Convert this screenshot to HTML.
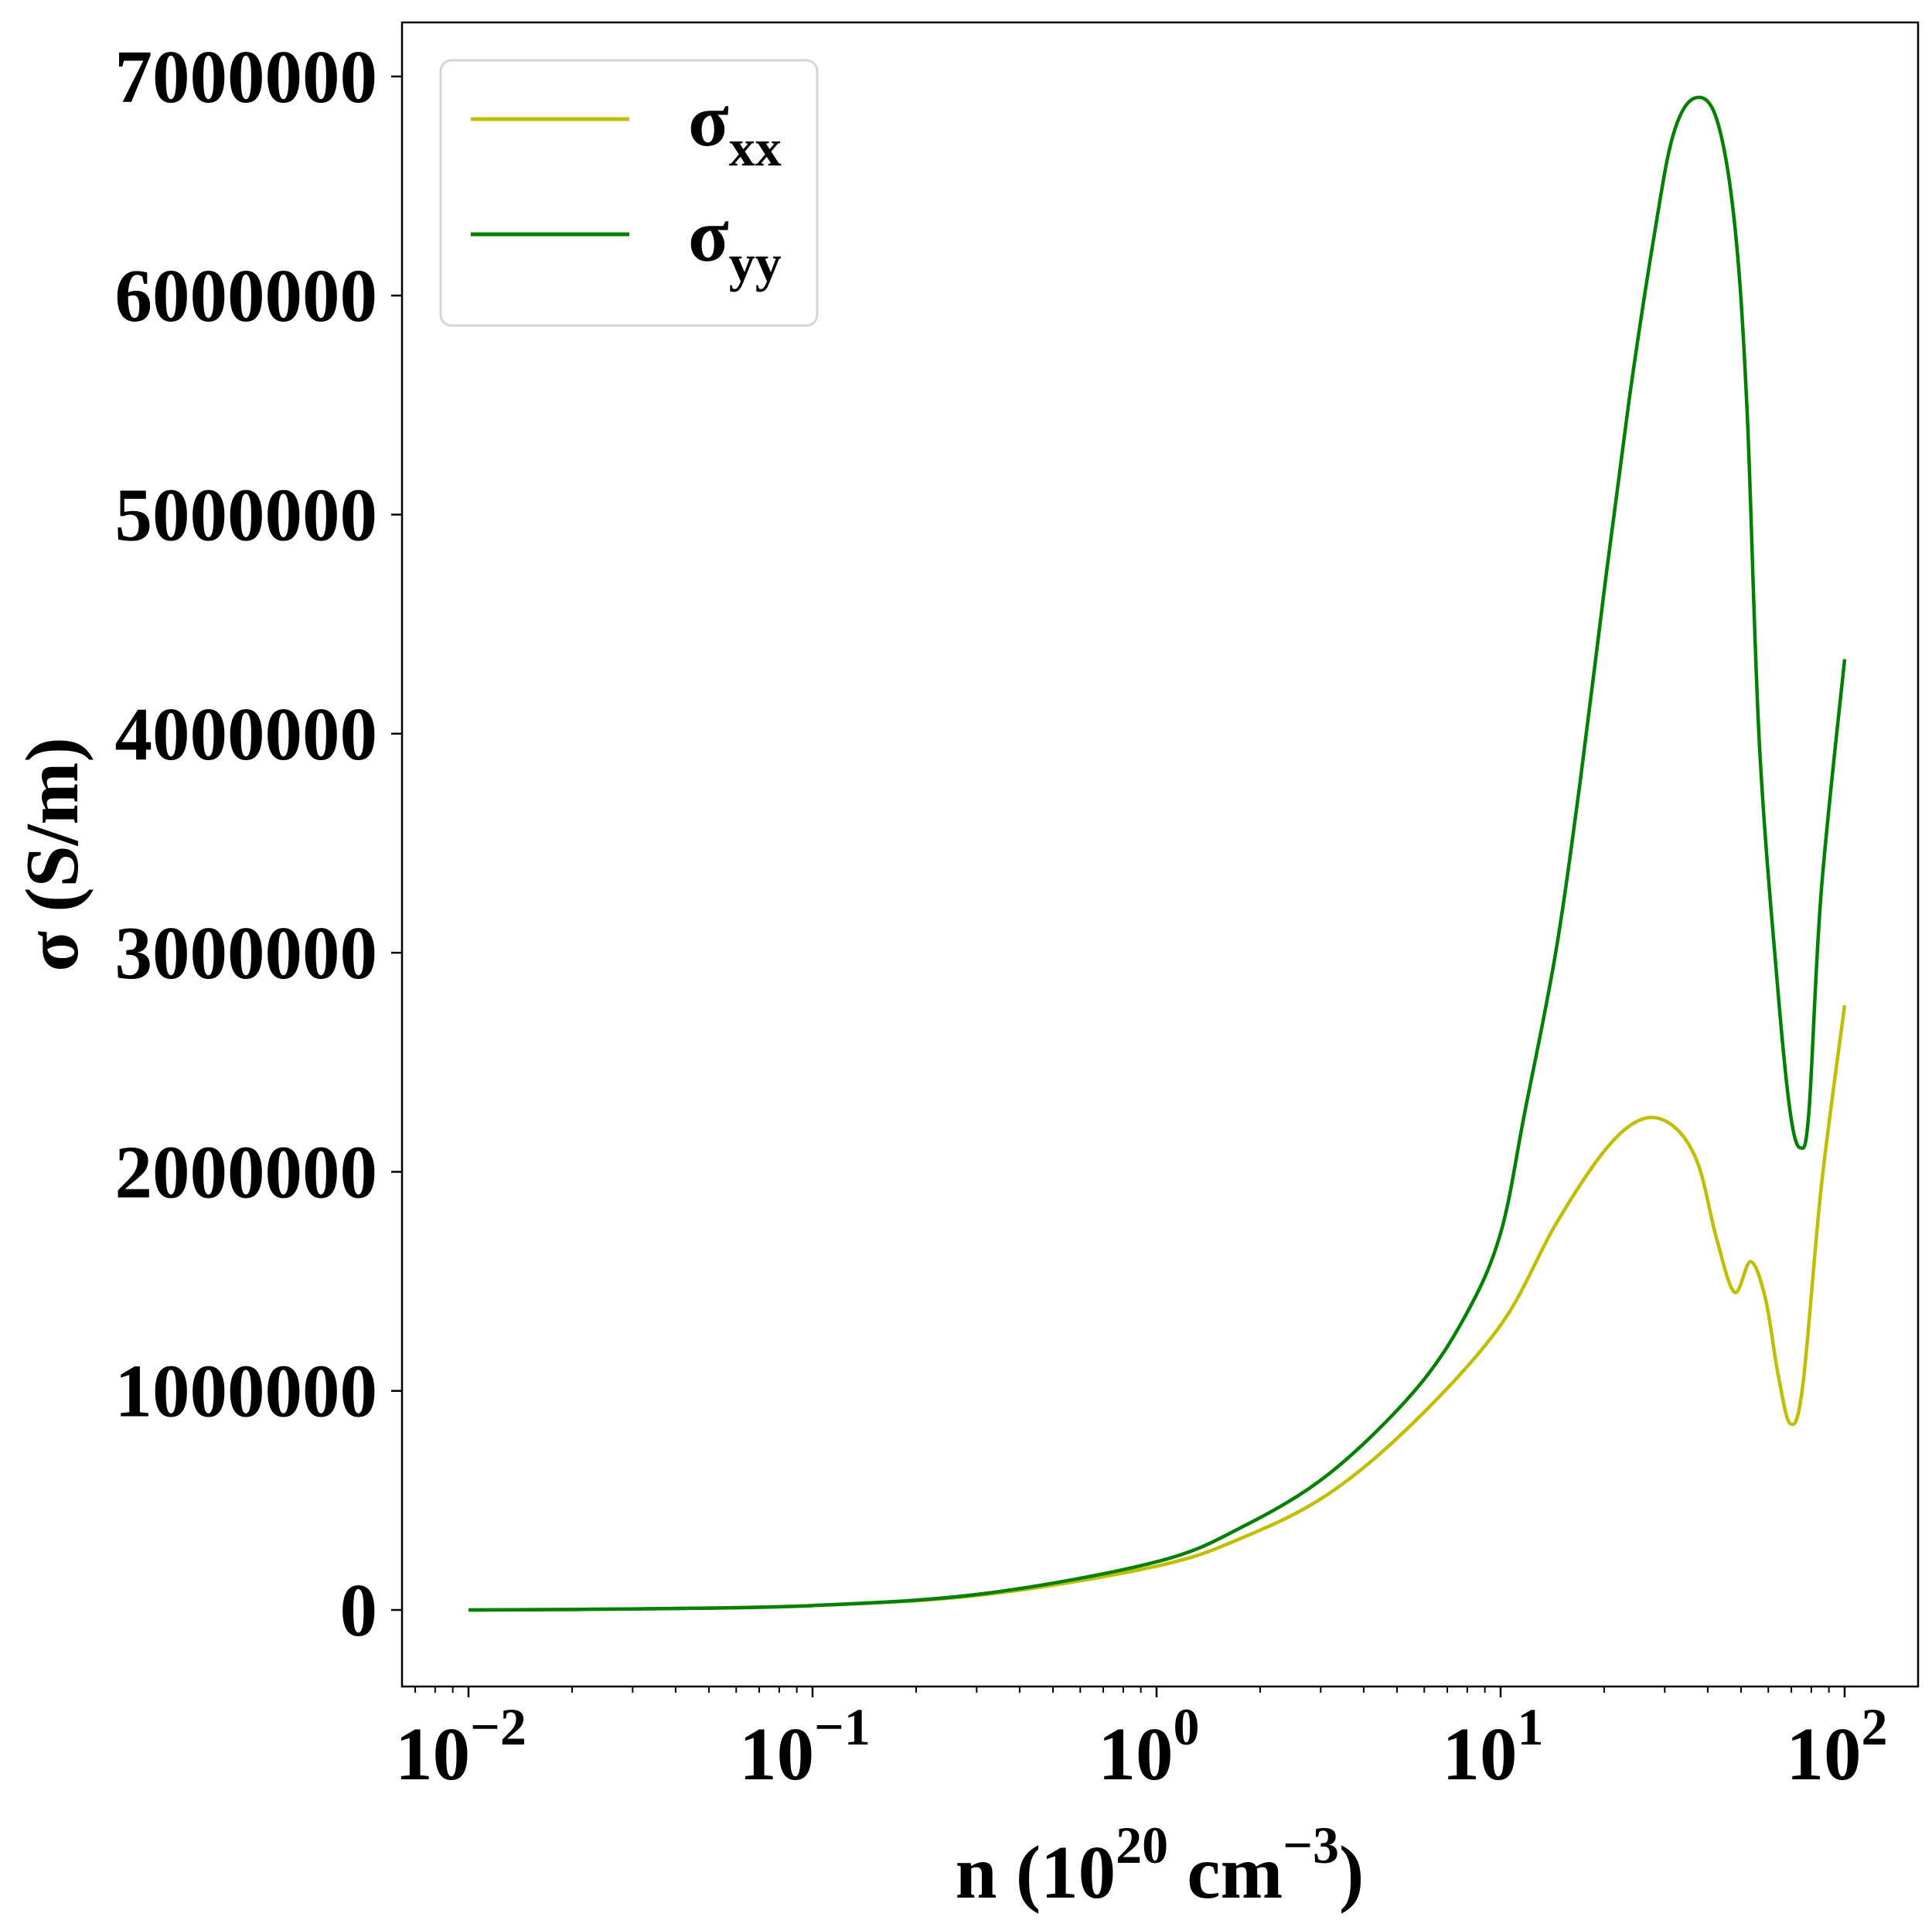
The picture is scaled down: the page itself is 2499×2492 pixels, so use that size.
<!DOCTYPE html>
<html><head><meta charset="utf-8"><style>
html,body{margin:0;padding:0;background:#fff;}
svg{display:block;font-family:"Liberation Serif","DejaVu Serif",serif;font-weight:bold;}
</style></head><body>
<svg id="chart" width="2499" height="2492" viewBox="0 0 2499 2492" xmlns="http://www.w3.org/2000/svg">
<rect x="0" y="0" width="2499" height="2492" fill="#fff"/>
<g id="plot"></g>
<rect x="520" y="29" width="1961" height="2152" fill="none" stroke="#000" stroke-width="2.5"/>
<g>
<rect x="570" y="78" width="487" height="343" rx="14" fill="#fff" fill-opacity="0.8" stroke="#d6d6d6" stroke-width="3"/>
<line x1="609" y1="154" x2="814" y2="154" stroke="#bfbf00" stroke-width="5"/>
<text x="890" y="188" font-size="97">σ<tspan font-size="68" dy="26">xx</tspan></text>
<line x1="609" y1="303" x2="814" y2="303" stroke="#008000" stroke-width="5"/>
<text x="890" y="337" font-size="97">σ<tspan font-size="68" dy="26">yy</tspan></text>
</g>
<text x="1500" y="2454" font-size="97" text-anchor="middle">n (10<tspan font-size="68" dy="-45">20</tspan><tspan dy="45"> cm</tspan><tspan font-size="68" dy="-45">−3</tspan><tspan dy="45">)</tspan></text>
<text transform="translate(100,1105) rotate(-90)" font-size="97" text-anchor="middle">σ (S/m)</text>
</svg>
<script>
const xLogs = [-2,-1.5,-1.0,-0.5,0,0.25,0.5,0.75,0.9,1.0,1.070,1.160,1.232,1.304,1.375,1.447,1.501,1.562,1.627,1.680,1.716,1.752,1.806,1.842,1.871,1.896,1.932,2.0];
const syy = [0,0.005,0.02,0.075,0.22,0.38,0.62,1.0,1.35,1.72,2.27,3.0,3.79,4.69,5.54,6.28,6.73,6.9,6.81,6.33,5.49,3.96,2.83,2.27,2.11,2.27,3.28,4.34];
const xLogsXX = [-2,-1.5,-1.0,-0.5,0,0.25,0.5,0.75,1.0,1.160,1.304,1.411,1.501,1.573,1.627,1.680,1.727,1.770,1.806,1.842,1.878,1.932,2.0];
const sxx = [0,0.005,0.02,0.07,0.2,0.33,0.53,0.86,1.3,1.76,2.1,2.24,2.21,2.04,1.7,1.45,1.59,1.42,1.08,0.85,1.02,1.93,2.76];
const yTicks = [0,1,2,3,4,5,6,7];
const yTickLabels = ["0","1000000","2000000","3000000","4000000","5000000","6000000","7000000"];
const xTickExps = [-2,-1,0,1,2];
const xTickLabels = ["−2","−1","0","1","2"];

const NS="http://www.w3.org/2000/svg";
const plot=document.getElementById('plot');
const svg=document.getElementById('chart');
const X0=606, DEC=445, Y0=2082, YM=283.3;
function xs(l){return X0+(l+2)*DEC;}
function ys(v){return Y0-v*YM;}
function mk(tag,attrs,parent){const e=document.createElementNS(NS,tag);for(const k in attrs)e.setAttribute(k,attrs[k]);(parent||svg).appendChild(e);return e;}
function pathFrom(xa,va){
  const p=xa.map((l,i)=>[xs(l),ys(va[i])]);
  let d="M"+p[0][0]+","+p[0][1];
  for(let i=0;i<p.length-1;i++){
    const p0=p[Math.max(i-1,0)],p1=p[i],p2=p[i+1],p3=p[Math.min(i+2,p.length-1)];
    const c1x=p1[0]+(p2[0]-p0[0])/6,c1y=p1[1]+(p2[1]-p0[1])/6;
    const c2x=p2[0]-(p3[0]-p1[0])/6,c2y=p2[1]-(p3[1]-p1[1])/6;
    d+=" C"+c1x+","+c1y+" "+c2x+","+c2y+" "+p2[0]+","+p2[1];
  }
  return d;
}
const lx=mk('path',{d:pathFrom(xLogsXX,sxx),fill:'none',stroke:'#bfbf00','stroke-width':4.5},plot);


const ly=mk('path',{d:pathFrom(xLogs,syy),fill:'none',stroke:'#008000','stroke-width':4.5},plot);



yTicks.forEach((v,i)=>{
  const y=ys(v);
  const t=mk('line',{x1:506,x2:520,y1:y,y2:y,stroke:'#000','stroke-width':2.5});
  
  
  const tx=mk('text',{x:488,y:y+33,'font-size':97,'text-anchor':'end'});
  tx.textContent=yTickLabels[i];
  
  
});
for(let e=-3;e<=2;e++){
  for(let m=1;m<10;m++){
    const l=e+Math.log10(m);const x=xs(l);
    if(x<521||x>2480)continue;
    const major=(m===1);
    const t=mk('line',{x1:x,x2:x,y1:2181,y2:2181+(major?14:8),stroke:'#000','stroke-width':major?2.5:2});
    
    
  }
}
xTickExps.forEach((e,i)=>{
  const x=xs(e);
  const tx=mk('text',{x:x-10,y:2301,'font-size':97,'text-anchor':'middle'});
  tx.textContent="10";
  const s=mk('tspan',{'font-size':68,dy:-45},tx);
  s.textContent=xTickLabels[i];
  
  
});
</script>
</body></html>
